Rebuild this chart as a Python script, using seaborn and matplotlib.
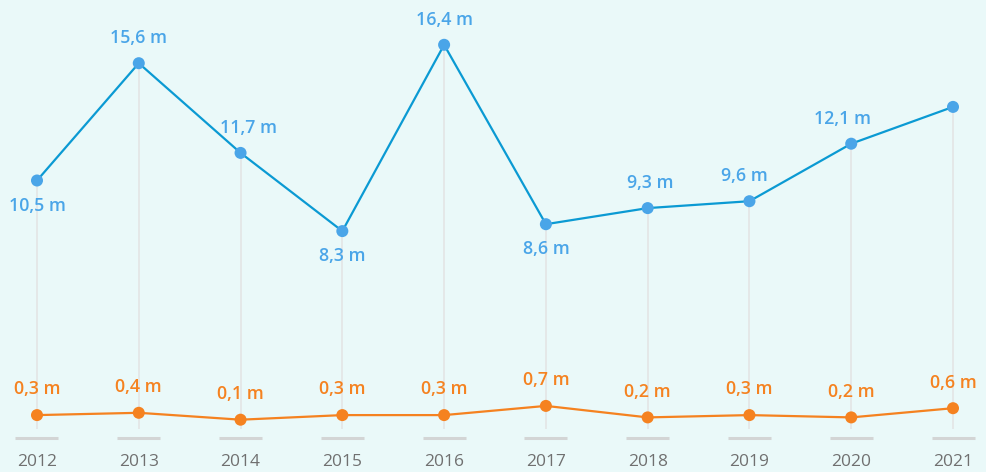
import matplotlib
matplotlib.use("Agg")
import matplotlib.pyplot as plt
import seaborn as sns
import pandas as pd
import numpy as np

years = ["2012", "2013", "2014", "2015", "2016", "2017", "2018", "2019", "2020", "2021"]
blue_values = [10.5, 15.6, 11.7, 8.3, 16.4, 8.6, 9.3, 9.6, 12.1, 13.7]
blue_labels = ["10,5 m", "15,6 m", "11,7 m", "8,3 m", "16,4 m", "8,6 m", "9,3 m", "9,6 m", "12,1 m", ""]
orange_values = [0.3, 0.4, 0.1, 0.3, 0.3, 0.7, 0.2, 0.3, 0.2, 0.6]
orange_labels = ["0,3 m", "0,4 m", "0,1 m", "0,3 m", "0,3 m", "0,7 m", "0,2 m", "0,3 m", "0,2 m", "0,6 m"]

# label placement (style): vertical direction and small horizontal nudges in points
blue_side = [-1, 1, 1, -1, 1, -1, 1, 1, 1, 1]
blue_dx = [0, 0, 6, 0, 0, 0, 2, -4, -6, 0]

BG = "#eaf9f9"
BLUE_LINE = "#0b9ad3"
BLUE_DOT = "#4aa5e8"
ORANGE = "#f58220"
GRID = "#e3e5e5"
DASH = "#d3d5d5"
YEAR_C = "#707070"

sns.set_style("white")
plt.rcParams["font.family"] = ["Open Sans", "DejaVu Sans"]

fig = plt.figure(figsize=(9.86, 4.72), dpi=100, facecolor=BG)
ax = fig.add_axes([0, 0, 1, 1])
ax.set_facecolor(BG)

x = np.arange(len(years))
df = pd.DataFrame({"x": x, "blue": blue_values, "orange": orange_values})

# pixel mapping: 101.78 px per category, 23 px per unit, zero at y=422 from top
px_x = 101.78
px_y = 23.0
ax.set_xlim(-37 / px_x, len(years) - 1 + (986 - 953) / px_x)
ax.set_ylim(-(472 - 422) / px_y, 422 / px_y)

# drop lines from blue points
ax.vlines(x, -(429 - 422) / px_y, blue_values, color=GRID, lw=1.2, zorder=1)

sns.lineplot(data=df, x="x", y="blue", ax=ax, color=BLUE_LINE, lw=1.6, zorder=3, legend=False)
ax.scatter(x, blue_values, s=75, color=BLUE_DOT, zorder=4, edgecolor="none")
sns.lineplot(data=df, x="x", y="orange", ax=ax, color=ORANGE, lw=1.6, zorder=3, legend=False)
ax.scatter(x, orange_values, s=75, color=ORANGE, zorder=4, edgecolor="none")

for i, (v, lab) in enumerate(zip(blue_values, blue_labels)):
    if lab:
        ax.annotate(lab, (i, v), xytext=(blue_dx[i], 18 * blue_side[i]), textcoords="offset points",
                    ha="center", va="center", color=BLUE_DOT, fontsize=12.8, fontweight="semibold", zorder=5)
for i, (v, lab) in enumerate(zip(orange_values, orange_labels)):
    ax.annotate(lab, (i, v), xytext=(0, 18.5), textcoords="offset points",
                ha="center", va="center", color=ORANGE, fontsize=12.8, fontweight="semibold", zorder=5)

# category baseline dashes and year labels
dash_y = -(438 - 422) / px_y
ax.hlines([dash_y] * len(years), x - 21.5 / px_x, x + 21.5 / px_x, color=DASH, lw=2.2, zorder=1)
for i, yr in enumerate(years):
    ax.text(i, -(462 - 422) / px_y, yr, ha="center", va="center", color=YEAR_C, fontsize=12.5)

ax.axis("off")
fig.savefig("out.png", dpi=100, facecolor=BG)
